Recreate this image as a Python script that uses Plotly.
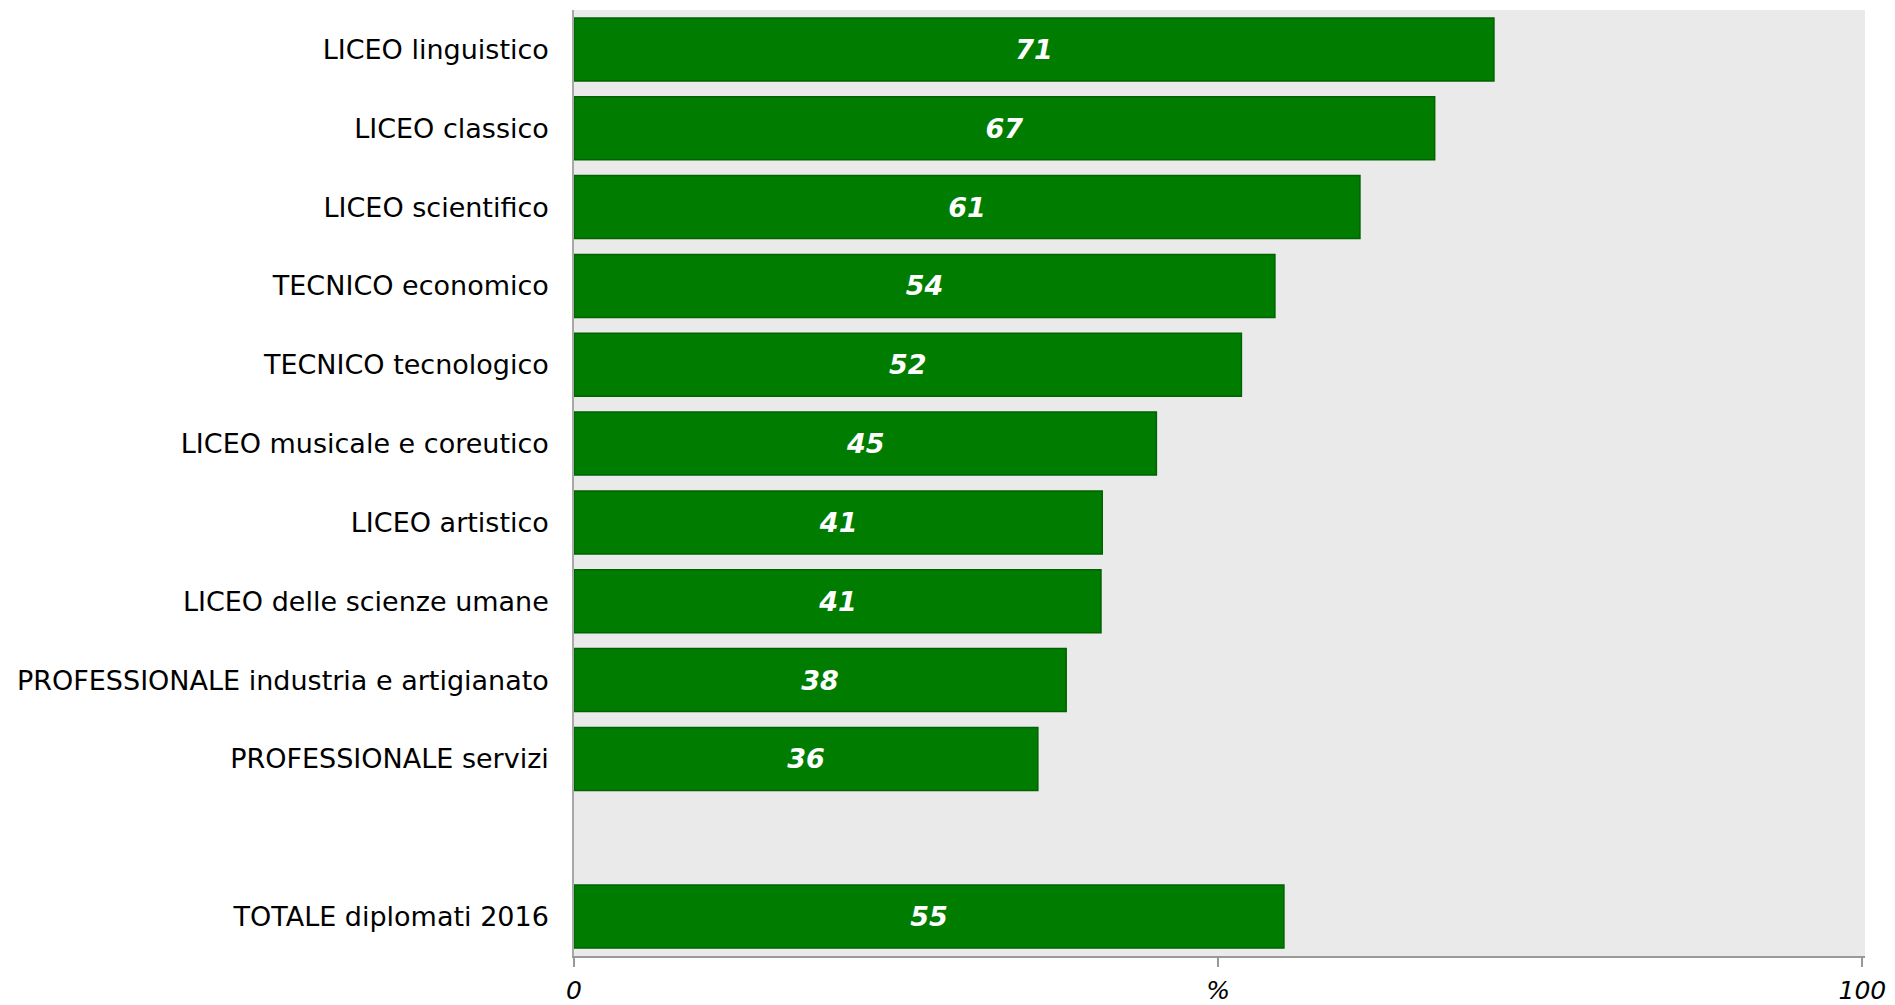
import plotly.graph_objects as go

categories = [
    "LICEO linguistico",
    "LICEO classico",
    "LICEO scientifico",
    "TECNICO economico",
    "TECNICO tecnologico",
    "LICEO musicale e coreutico",
    "LICEO artistico",
    "LICEO delle scienze umane",
    "PROFESSIONALE industria e artigianato",
    "PROFESSIONALE servizi",
    " ",
    "TOTALE diplomati 2016",
]
values = [71.4, 66.8, 61.0, 54.4, 51.8, 45.2, 41.0, 40.9, 38.2, 36.0, None, 55.1]

x_tickvals = [0, 50, 100]
x_ticktext = ["0", "%", "100"]

fig = go.Figure(
    go.Bar(
        x=values,
        y=categories,
        orientation="h",
        width=0.8,
        marker=dict(color="#007D00", line=dict(color="#006200", width=1.5)),
        texttemplate="%{x:.0f}",
        textposition="inside",
        insidetextanchor="middle",
        constraintext="none",
        textfont=dict(family="DejaVu Sans", size=27, color="white", weight="bold", style="italic"),
        hoverinfo="skip",
    )
)

fig.update_layout(
    width=1895,
    height=1005,
    margin=dict(l=574, r=30, t=10, b=49, autoexpand=False),
    paper_bgcolor="white",
    plot_bgcolor="#EAEAEA",
    showlegend=False,
    bargap=0.2,
)

fig.update_yaxes(
    type="category",
    categoryorder="array",
    categoryarray=categories,
    range=[len(categories) - 0.5, -0.5],
    automargin=False,
    showgrid=False,
    showline=True,
    linecolor="#A8A8A8",
    linewidth=1.5,
    ticks="",
    ticklabelstandoff=18,
    tickfont=dict(family="DejaVu Sans", size=27, color="black"),
)

fig.update_xaxes(
    range=[0, 100.2],
    automargin=False,
    showgrid=False,
    zeroline=False,
    showline=True,
    linecolor="#999999",
    linewidth=1.5,
    ticks="outside",
    ticklen=9,
    tickwidth=1.5,
    tickcolor="#999999",
    tickvals=x_tickvals,
    ticktext=x_ticktext,
    ticklabelstandoff=2,
    tickfont=dict(family="DejaVu Sans", size=25, color="black", style="italic"),
)

fig.write_html(
    "out.html",
    config={"displayModeBar": False},
    post_script="document.body.style.margin='0';",
)
